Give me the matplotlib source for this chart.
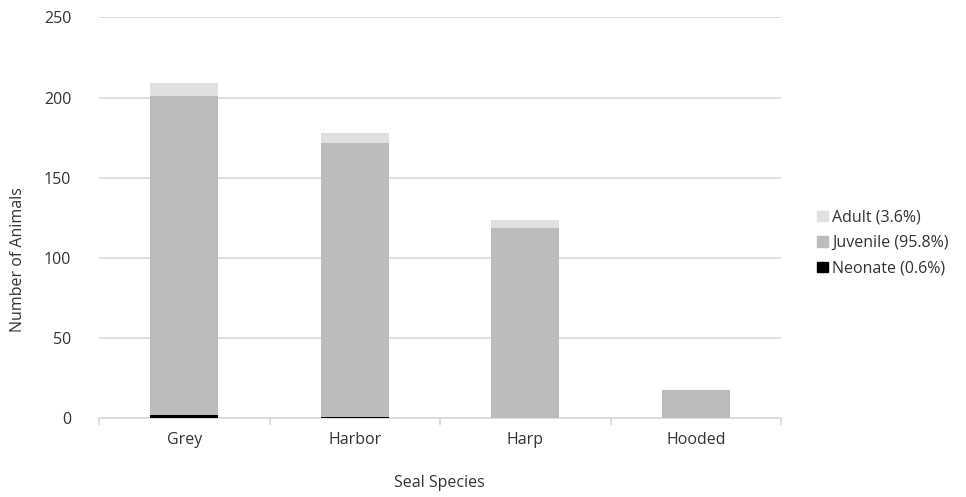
import numpy as np
import matplotlib.pyplot as plt
from matplotlib.patches import Patch

plt.rcParams['font.family'] = ['Open Sans', 'DejaVu Sans']
plt.rcParams['font.size'] = 11.5

species = ['Grey', 'Harbor', 'Harp', 'Hooded']
neonate = [2, 1, 0, 0]
juvenile = [199, 171, 119, 18]
adult = [8, 6, 5, 0]
legend_labels = ['Adult (3.6%)', 'Juvenile (95.8%)', 'Neonate (0.6%)']

c_neo = '#000000'
c_juv = '#bbbcbb'
c_adu = '#e0e0e0'
txt = '#333333'
grid_c = '#d9d9d9'

fig = plt.figure(figsize=(9.66, 4.97), dpi=100)
ax = fig.add_axes([0.1025, 0.158, 0.706, 0.807])

x = np.arange(len(species))
neo = np.array(neonate)
juv = np.array(juvenile)
adu = np.array(adult)
w = 0.4
ax.bar(x, neo, w, color=c_neo, zorder=3)
ax.bar(x, juv, w, bottom=neo, color=c_juv, zorder=3)
ax.bar(x, adu, w, bottom=neo + juv, color=c_adu, zorder=3)

ax.set_xlim(-0.5, len(species) - 0.5)
ax.set_ylim(0, 250)
ax.set_yticks(np.arange(0, 251, 50))
ax.yaxis.grid(True, color=grid_c, linewidth=1.2, zorder=0)
ax.set_axisbelow(True)

for s in ['top', 'right', 'left']:
    ax.spines[s].set_visible(False)
ax.spines['bottom'].set_color(grid_c)
ax.spines['bottom'].set_linewidth(1.2)

ax.set_xticks(x)
ax.set_xticklabels(species, color=txt)
ax.tick_params(axis='x', length=0, pad=10)
ax.set_xticks(np.arange(-0.5, len(species)), minor=True)
ax.tick_params(axis='x', which='minor', length=5, color=grid_c, width=1.2)
ax.tick_params(axis='y', length=0, pad=20, labelcolor=txt)

fig.text(0.019, 0.478, 'Number of Animals', rotation=90, ha='center', va='center', color=txt)
fig.text(0.455, 0.028, 'Seal Species', ha='center', va='center', color=txt)

handles = [Patch(color=c_adu), Patch(color=c_juv), Patch(color=c_neo)]
fig.legend(handles, legend_labels, loc='center left', bbox_to_anchor=(0.831, 0.511),
           frameon=False, handlelength=0.65, handleheight=0.65, handletextpad=0.3,
           labelspacing=0.6, labelcolor=txt)

fig.savefig('out.png', dpi=100)
